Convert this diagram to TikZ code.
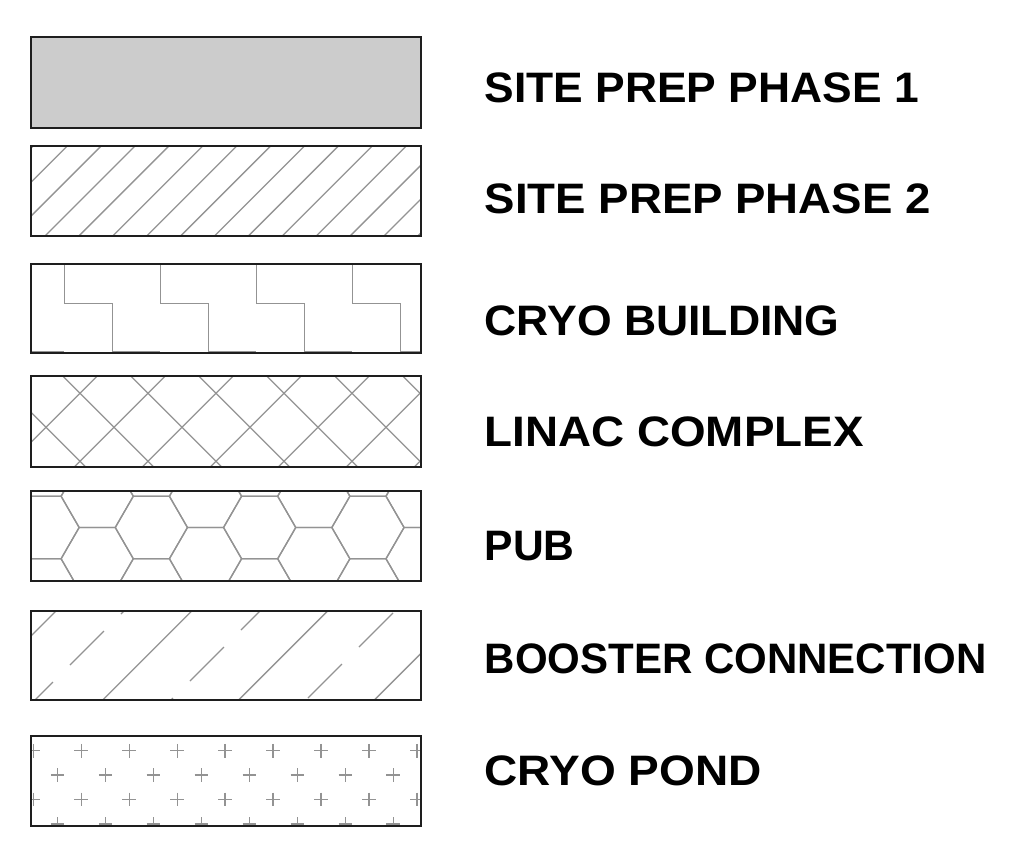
\documentclass[tikz,border=0pt]{standalone}
\usepackage{fontspec}
\setmainfont{Liberation Sans}
\usepackage{graphicx}
\definecolor{hatchgray}{HTML}{939393}
\definecolor{fillgray}{HTML}{CCCCCC}
\definecolor{edgeblack}{HTML}{1E1E1E}
\begin{document}
\begin{tikzpicture}[x=1pt,y=-1pt,
  boxline/.style={draw=edgeblack, line width=1.4pt},
  hatch/.style={draw=hatchgray, line width=1.3pt},
  lbl/.style={anchor=base west, inner sep=0pt, font=\fontsize{42.6}{50}\selectfont\bfseries}]
\useasboundingbox[fill=white] (0,0) rectangle (1030,850);

% ---------- Box 1: solid grey ----------
\fill[fillgray] (31,37) rectangle (421,128);
\draw[boxline] (31,37) rectangle (421,128);

% ---------- Box 2: diagonal hatch ----------
\begin{scope}
  \clip (31,146) rectangle (421,236);
  \foreach \k in {-4,...,12} {
    \pgfmathsetmacro\c{281+33.9*\k}
    \draw[hatch] (\c-236,236) -- (\c-146,146);
  }
\end{scope}
\draw[boxline] (31,146) rectangle (421,236);

% ---------- Box 3: steps ----------
\begin{scope}
  \clip (31,264) rectangle (421,353);
  \foreach \x in {-31.7,64.3,160.3,256.3,352.3} {
    \draw[hatch] (\x,255) -- (\x,303.3) -- (\x+48,303.3) -- (\x+48,351.7) -- (\x+96,351.7);
  }
\end{scope}
\draw[boxline] (31,264) rectangle (421,353);

% ---------- Box 4: cross hatch ----------
\begin{scope}
  \clip (31,376) rectangle (421,467);
  \foreach \k in {-1,...,7} {
    \pgfmathsetmacro\c{473.3+68*\k}
    \draw[hatch] (\c-467,467) -- (\c-376,376);
  }
  \foreach \k in {-2,...,6} {
    \pgfmathsetmacro\c{-313.3+68*\k}
    \draw[hatch] (\c+376,376) -- (\c+467,467);
  }
\end{scope}
\draw[boxline] (31,376) rectangle (421,467);

% ---------- Box 5: hexagons ----------
\begin{scope}
  \clip (31,491) rectangle (421,581);
  \foreach \i in {-1,...,4} {
    \foreach \j in {-1,...,1} {
      \pgfmathsetmacro\ax{43.05+108.3*\i}
      \pgfmathsetmacro\ay{527.5+62.52*\j}
      \pgfmathsetmacro\bx{97.2+108.3*\i}
      \pgfmathsetmacro\by{496.24+62.52*\j}
      \draw[hatch,shift={(\ax,\ay)}] (36.1,0) -- (18.05,31.26) -- (-18.05,31.26) -- (-36.1,0) -- (-18.05,-31.26) -- (18.05,-31.26) -- cycle;
      \draw[hatch,shift={(\bx,\by)}] (36.1,0) -- (18.05,31.26) -- (-18.05,31.26) -- (-36.1,0) -- (-18.05,-31.26) -- (18.05,-31.26) -- cycle;
    }
  }
\end{scope}
\draw[boxline] (31,491) rectangle (421,581);

% ---------- Box 6: dashed diagonals ----------
\begin{scope}
  \clip (31,611) rectangle (421,700);
  \foreach \c in {667,802.8,938.6,1074.4} {
    \draw[hatch] (\c-700,700) -- (\c-611,611);
  }
  \foreach \c/\a in {735/19,735/70,735/121,871/139,871/190,871/241,1006/257,1006/308,1006/359} {
    \draw[hatch] (\a,\c-\a) -- (\a+34,\c-\a-34);
  }
\end{scope}
\draw[boxline] (31,611) rectangle (421,700);

% ---------- Box 7: plus marks ----------
\begin{scope}
  \clip (31,736) rectangle (421,826);
  \foreach \y in {750.7,799.5} {
    \foreach \k in {0,...,8} {
      \pgfmathsetmacro\px{33.3+47.95*\k}
      \draw[hatch] (\px-6.8,\y) -- (\px+6.8,\y) (\px,\y-6.8) -- (\px,\y+6.8);
    }
  }
  \foreach \y in {775.1,823.9} {
    \foreach \k in {0,...,7} {
      \pgfmathsetmacro\px{57.6+47.95*\k}
      \draw[hatch] (\px-6.8,\y) -- (\px+6.8,\y) (\px,\y-6.8) -- (\px,\y+6.8);
    }
  }
\end{scope}
\draw[boxline] (31,736) rectangle (421,826);

% ---------- Labels ----------
\node[lbl] (l1) at (484.5,102.3) {\resizebox{434pt}{\height}{SITE PREP PHASE 1}};
\node[lbl] (l2) at (484.5,213.3) {\resizebox{446pt}{\height}{SITE PREP PHASE 2}};
\node[lbl] (l3) at (484.5,335.5) {\resizebox{355pt}{\height}{CRYO BUILDING}};
\node[lbl] (l4) at (484.5,446.7) {\resizebox{379pt}{\height}{LINAC COMPLEX}};
\node[lbl] (l5) at (484.5,560) {\resizebox{90pt}{\height}{PUB}};
\node[lbl] (l6) at (484.5,673) {\resizebox{502pt}{\height}{BOOSTER CONNECTION}};
\node[lbl] (l7) at (484.5,785) {\resizebox{277pt}{\height}{CRYO POND}};
\end{tikzpicture}
\end{document}
